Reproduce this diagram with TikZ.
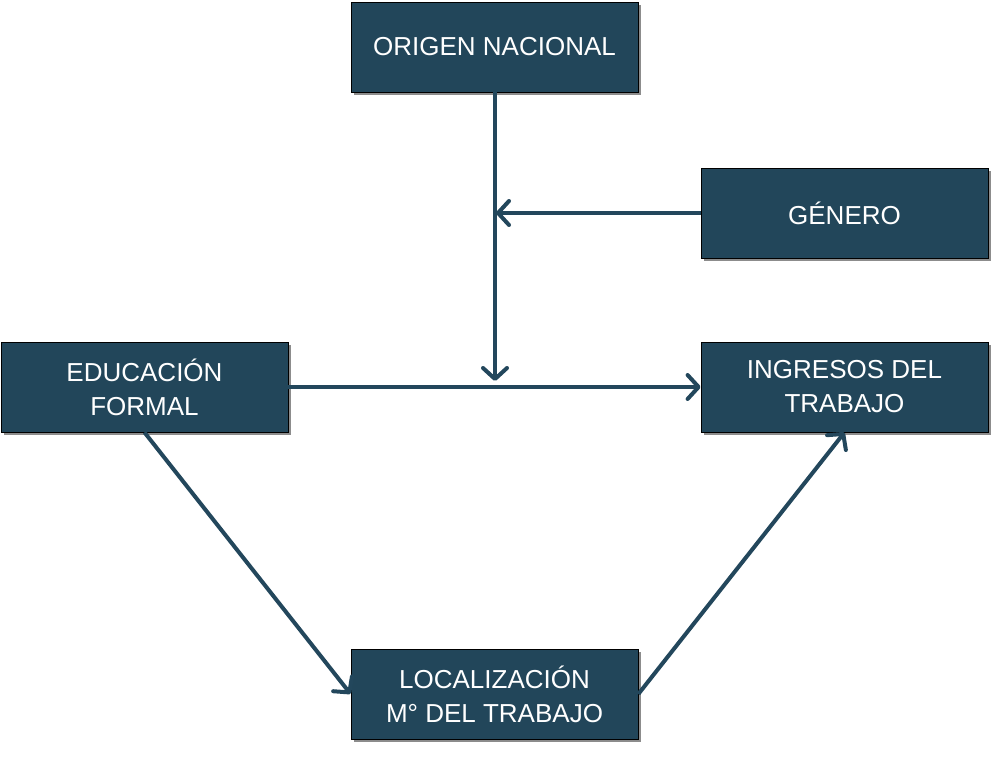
\documentclass[tikz,border=0pt]{standalone}
\usepackage{fontspec}
\setmainfont{Liberation Sans}
\usetikzlibrary{shadows,arrows.meta}
\definecolor{boxc}{HTML}{22465A}
\definecolor{linec}{HTML}{23475C}
\begin{document}
\begin{tikzpicture}[x=1pt,y=-1pt,
  box/.style={draw=black,line width=0.8pt,fill=boxc,text=white,minimum width=287pt,minimum height=90pt,
    align=center,inner sep=0pt,font=\fontsize{26}{34}\selectfont,
    drop shadow={shadow xshift=3pt,shadow yshift=-3pt,fill=black,opacity=0.45}},
  conn/.style={draw=linec,line width=4pt,-{Straight Barb[length=11pt,width=24pt,round]}}]
\useasboundingbox (0,0) rectangle (999,762);
\node[box] (orig) at (494.5,47) {ORIGEN NACIONAL};
\node[box] (gen) at (844.5,213) {GÉNERO};
\node[box] (edu) at (144.5,387) {EDUCACIÓN\\FORMAL};
\node[box] (ing) at (844.5,387) {INGRESOS DEL\\TRABAJO};
\node[box] (loc) at (494.5,694) {LOCALIZACIÓN\\M° DEL TRABAJO};
\coordinate (mid) at (495,381);
\coordinate (gmid) at (496,213);
\draw[conn] (orig.south -| mid) -- (mid);
\draw[conn] (gen.west) -- (gmid);
\draw[conn] (edu.east) -- (ing.west);
\draw[conn] (edu.south) -- (loc.west);
\draw[conn] (loc.east) -- (ing.south);
\end{tikzpicture}
\end{document}
